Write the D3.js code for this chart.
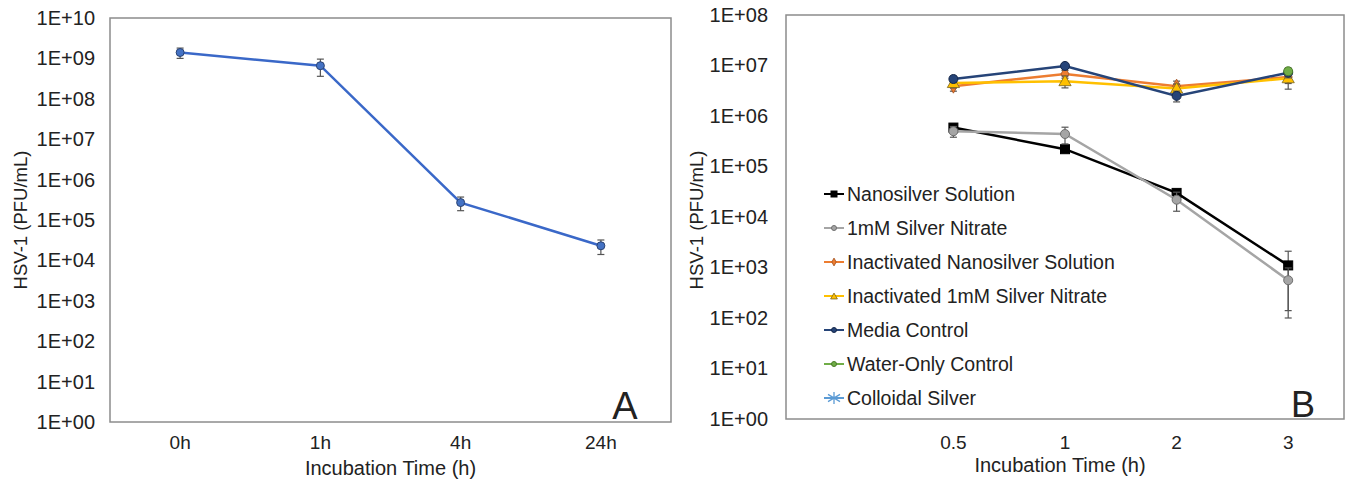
<!DOCTYPE html>
<html>
<head>
<meta charset="utf-8">
<script src="https://cdnjs.cloudflare.com/ajax/libs/d3/7.8.5/d3.min.js"></script>
<style>
  body { margin: 0; background: #fff; }
  svg text { font-family: "Liberation Sans", Arial, sans-serif; fill: #222; }
</style>
</head>
<body>
<div id="chart-area"></div>
<script>
// ---- panel A data ----
var timeA = ["0h", "1h", "4h", "24h"];
var hsvA = [1.4e9, 6.6e8, 2.7e5, 2.3e4];
var errA = [4e8, 3e8, 1e5, 9e3];
var yTicksA = [1, 1e1, 1e2, 1e3, 1e4, 1e5, 1e6, 1e7, 1e8, 1e9, 1e10];

// ---- panel B data ----
var timeB = ["0.5", "1", "2", "3"];
var nanoSilver = [5.9e5, 2.2e5, 3.0e4, 1.1e3];
var nanoSilverErr = [1.0e5, 3e4, 4e3, 1.0e3];
var silverNitrate = [5.0e5, 4.4e5, 2.2e4, 5.6e2];
var silverNitrateErr = [1.2e5, 1.6e5, 9e3, 4.2e2];
var inactNano = [3.9e6, 6.8e6, 3.9e6, 5.9e6];
var inactNanoErr = [0.8e6, 1.2e6, 1.0e6, 1.5e6];
var inactNitrate = [4.5e6, 4.9e6, 3.5e6, 5.6e6];
var inactNitrateErr = [0.9e6, 1.3e6, 0.8e6, 2.2e6];
var mediaControl = [5.4e6, 9.8e6, 2.5e6, 7.2e6];
var mediaControlErr = [0.8e6, 1.0e6, 0.6e6, 1.5e6];
var waterControl = [null, null, null, 7.7e6];
var waterControlErr = [null, null, null, 1.2e6];
var colloidalSilver = [null, null, null, null];
var colloidalSilverErr = [null, null, null, null];
var yTicksB = [1, 1e1, 1e2, 1e3, 1e4, 1e5, 1e6, 1e7, 1e8];

var seriesB = [
  {name: "Nanosilver Solution", vals: nanoSilver, err: nanoSilverErr, color: "#000000", fill: "#000000", stroke: "#000000", marker: "square"},
  {name: "1mM Silver Nitrate", vals: silverNitrate, err: silverNitrateErr, color: "#a5a5a5", fill: "#a5a5a5", stroke: "#6f6f6f", marker: "circle"},
  {name: "Inactivated Nanosilver Solution", vals: inactNano, err: inactNanoErr, color: "#ed7d31", fill: "#ed7d31", stroke: "#a05020", marker: "diamond"},
  {name: "Inactivated 1mM Silver Nitrate", vals: inactNitrate, err: inactNitrateErr, color: "#ffc000", fill: "#ffc000", stroke: "#7a6420", marker: "triangle"},
  {name: "Media Control", vals: mediaControl, err: mediaControlErr, color: "#264478", fill: "#264478", stroke: "#16284a", marker: "circle"},
  {name: "Water-Only Control", vals: waterControl, err: waterControlErr, color: "#70ad47", fill: "#70ad47", stroke: "#4a7a2a", marker: "circle"},
  {name: "Colloidal Silver", vals: colloidalSilver, err: colloidalSilverErr, color: "#5b9bd5", fill: "#5b9bd5", stroke: "#5b9bd5", marker: "star"}
];

function sciFmt(d) {
  var e = Math.round(Math.log10(d));
  return "1E+" + (e < 10 ? "0" + e : e);
}

var svg = d3.select("#chart-area").append("svg")
  .attr("width", 1349)
  .attr("height", 484);

function drawMarker(g, type, x, y, size, fill, stroke) {
  if (type === "square") {
    g.append("rect").attr("x", x - size/2).attr("y", y - size/2)
      .attr("width", size).attr("height", size)
      .attr("fill", fill).attr("stroke", stroke).attr("stroke-width", 1);
  } else if (type === "circle") {
    g.append("circle").attr("cx", x).attr("cy", y).attr("r", size/2)
      .attr("fill", fill).attr("stroke", stroke).attr("stroke-width", 1);
  } else if (type === "diamond") {
    g.append("path").attr("d", d3.symbol(d3.symbolDiamond, size*size*0.7)())
      .attr("transform", "translate(" + x + "," + y + ")")
      .attr("fill", fill).attr("stroke", stroke).attr("stroke-width", 0.8);
  } else if (type === "triangle") {
    g.append("path").attr("d", d3.symbol(d3.symbolTriangle, size*size*0.8)())
      .attr("transform", "translate(" + x + "," + (y + 1) + ")")
      .attr("fill", fill).attr("stroke", stroke).attr("stroke-width", 0.8);
  } else if (type === "star") {
    // asterisk drawn by hand (x + vertical stroke)
    var r = size / 2;
    var p = "M" + (x - r) + "," + (y - r * 0.6) + "L" + (x + r) + "," + (y + r * 0.6) +
            "M" + (x - r) + "," + (y + r * 0.6) + "L" + (x + r) + "," + (y - r * 0.6) +
            "M" + x + "," + (y - r) + "L" + x + "," + (y + r);
    g.append("path").attr("d", p)
      .attr("fill", "none").attr("stroke", stroke).attr("stroke-width", 1.3);
  }
}

function errorBar(g, x, yScale, v, e) {
  var lo = Math.max(v - e, 1);
  var hi = v + e;
  g.append("line").attr("x1", x).attr("x2", x)
    .attr("y1", yScale(lo)).attr("y2", yScale(hi))
    .attr("stroke", "#555").attr("stroke-width", 1.2);
  [lo, hi].forEach(function(t) {
    g.append("line").attr("x1", x - 3.5).attr("x2", x + 3.5)
      .attr("y1", yScale(t)).attr("y2", yScale(t))
      .attr("stroke", "#555").attr("stroke-width", 1.2);
  });
}

// ================= PANEL A =================
var A = {left: 110, top: 18, right: 671, bottom: 422};
var xA = d3.scaleBand().domain(timeA).range([A.left, A.right]);
var yA = d3.scaleLog().domain([1, 1e10]).range([A.bottom, A.top]);

var gA = svg.append("g");
gA.append("rect").attr("x", A.left).attr("y", A.top)
  .attr("width", A.right - A.left).attr("height", A.bottom - A.top)
  .attr("fill", "none").attr("stroke", "#8c8c8c").attr("stroke-width", 1.5);

var yAxisA = gA.append("g").attr("transform", "translate(" + (A.left - 15) + ",0)")
  .call(d3.axisLeft(yA).tickValues(yTicksA).tickFormat(sciFmt).tickSize(0).tickPadding(0));
yAxisA.select(".domain").remove();
yAxisA.selectAll("text").attr("font-size", "20px").attr("font-family", "Liberation Sans, Arial").attr("fill", "#222");

var xAxisA = gA.append("g").attr("transform", "translate(0," + A.bottom + ")")
  .call(d3.axisBottom(xA).tickSize(0).tickPadding(14));
xAxisA.select(".domain").remove();
xAxisA.selectAll("text").attr("font-size", "19px").attr("font-family", "Liberation Sans, Arial").attr("fill", "#222");

gA.append("text").attr("x", (A.left + A.right) / 2).attr("y", 475)
  .attr("text-anchor", "middle").attr("font-size", "20px")
  .text("Incubation Time (h)");
gA.append("text").attr("transform", "translate(27," + 220 + ") rotate(-90)")
  .attr("text-anchor", "middle").attr("font-size", "18.5px")
  .text("HSV-1 (PFU/mL)");
gA.append("text").attr("x", 625).attr("y", 419).attr("text-anchor", "middle")
  .attr("font-size", "38px").attr("fill", "#000").text("A");

var lineA = d3.line()
  .x(function(d, i) { return xA(timeA[i]) + xA.bandwidth() / 2; })
  .y(function(d) { return yA(d); });
gA.append("path").datum(hsvA).attr("d", lineA)
  .attr("fill", "none").attr("stroke", "#3a68c8").attr("stroke-width", 2.5);
hsvA.forEach(function(v, i) {
  var cx = xA(timeA[i]) + xA.bandwidth() / 2;
  errorBar(gA, cx, yA, v, errA[i]);
  drawMarker(gA, "circle", cx, yA(v), 8, "#4472c4", "#2a4272");
});

// ================= PANEL B =================
var B = {left: 786, top: 15, right: 1344, bottom: 419};
var xB = d3.scaleBand().domain([" "].concat(timeB)).range([B.left, B.right]);
var yB = d3.scaleLog().domain([1, 1e8]).range([B.bottom, B.top]);
function cxB(i) { return xB(timeB[i]) + xB.bandwidth() / 2; }

var gB = svg.append("g");
gB.append("rect").attr("x", B.left).attr("y", B.top)
  .attr("width", B.right - B.left).attr("height", B.bottom - B.top)
  .attr("fill", "none").attr("stroke", "#8c8c8c").attr("stroke-width", 1.5);

var yAxisB = gB.append("g").attr("transform", "translate(" + (B.left - 18) + ",0)")
  .call(d3.axisLeft(yB).tickValues(yTicksB).tickFormat(sciFmt).tickSize(0).tickPadding(0));
yAxisB.select(".domain").remove();
yAxisB.selectAll("text").attr("font-size", "20px").attr("font-family", "Liberation Sans, Arial").attr("fill", "#222");

var xAxisB = gB.append("g").attr("transform", "translate(0," + B.bottom + ")")
  .call(d3.axisBottom(xB).tickSize(0).tickPadding(17));
xAxisB.select(".domain").remove();
xAxisB.selectAll("text").attr("font-size", "19px").attr("font-family", "Liberation Sans, Arial").attr("fill", "#222");

gB.append("text").attr("x", 1060).attr("y", 472)
  .attr("text-anchor", "middle").attr("font-size", "20px")
  .text("Incubation Time (h)");
gB.append("text").attr("transform", "translate(703," + 220 + ") rotate(-90)")
  .attr("text-anchor", "middle").attr("font-size", "18.5px")
  .text("HSV-1 (PFU/mL)");
gB.append("text").attr("x", 1303).attr("y", 417).attr("text-anchor", "middle")
  .attr("font-size", "36px").attr("fill", "#000").text("B");

var lineB = d3.line()
  .defined(function(d) { return d != null; })
  .x(function(d, i) { return cxB(i); })
  .y(function(d) { return yB(d); });

seriesB.forEach(function(s) {
  var gs = gB.append("g");
  gs.append("path").datum(s.vals).attr("d", lineB)
    .attr("fill", "none").attr("stroke", s.color).attr("stroke-width", 2.5);
  s.vals.forEach(function(v, i) {
    if (v == null) return;
    errorBar(gs, cxB(i), yB, v, s.err[i]);
  });
  s.vals.forEach(function(v, i) {
    if (v == null) return;
    drawMarker(gs, s.marker, cxB(i), yB(v), 9, s.fill, s.stroke);
  });
});

// legend
var legend = gB.append("g");
seriesB.forEach(function(s, i) {
  var ly = 194 + i * 34;
  legend.append("line").attr("x1", 824).attr("x2", 844)
    .attr("y1", ly).attr("y2", ly)
    .attr("stroke", s.color).attr("stroke-width", 2);
  var ms = s.marker === "square" ? 6 : (s.marker === "star" ? 12 : 5);
  drawMarker(legend, s.marker, 834, ly, ms, s.fill, s.stroke);
  legend.append("text").attr("x", 847).attr("y", ly + 7)
    .attr("font-size", "19.5px").text(s.name);
});
</script>
</body>
</html>
